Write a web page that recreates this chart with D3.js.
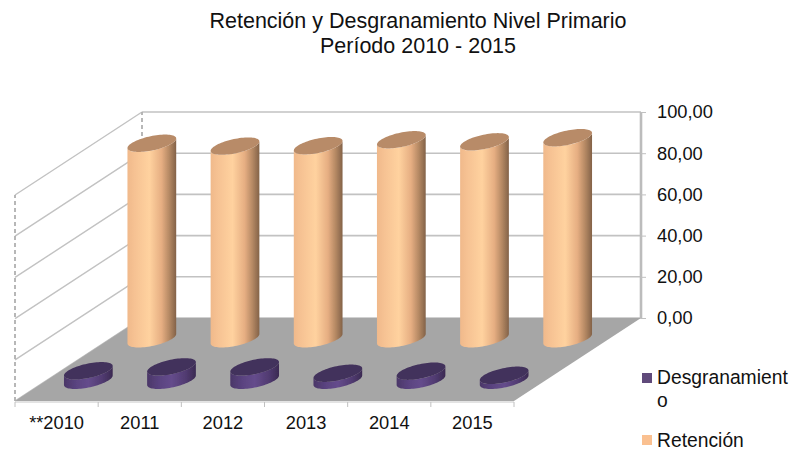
<!DOCTYPE html>
<html>
<head>
<meta charset="utf-8">
<script src="https://cdn.jsdelivr.net/npm/d3@7"></script>
<style>
  html, body { margin: 0; padding: 0; background: #fff; }
  text { font-family: "Liberation Sans", Arial, sans-serif; fill: #111; }
</style>
</head>
<body>
<div id="chart"></div>
<script>
// values
const years = ['**2010', '2011', '2012', '2013', '2014', '2015'];
const retencion = [94.9, 93.5, 93.7, 96.6, 95.6, 97.6];
const desgranamiento = [4.6, 6.5, 6.5, 3.4, 4.4, 2.4];
const yTicks = [0, 20, 40, 60, 80, 100];
const titleLines = ['Retención y Desgranamiento Nivel Primario', 'Período 2010 - 2015'];

const width = 794, height = 453;
const svg = d3.select('#chart').append('svg')
  .attr('width', width)
  .attr('height', height)
  .style('display', 'block');

// the 3d box: x along the front edge, y up, depth goes back and to the right
const depthDx = 127, depthDy = -83;
const x = d3.scaleBand().domain(years).range([15, 514]);
const y = d3.scaleLinear().domain([0, 100]).range([401, 195]);
const depth = d3.scaleLinear().domain([0, 1]);

function project(px, value, d) {
  return [px + depth(d) * depthDx, y(value) + depth(d) * depthDy];
}

const es = d3.formatLocale({ decimal: ',', thousands: '.', grouping: [3], currency: ['', ''] });
const fmt = es.format('.2f');

const defs = svg.append('defs');
defs.append('filter').attr('id', 'soft')
  .append('feGaussianBlur').attr('stdDeviation', 0.5);

function sideGradient(id, stops) {
  const g = defs.append('linearGradient').attr('id', id);
  stops.forEach(s => g.append('stop').attr('offset', s[0]).attr('stop-color', s[1]));
}
sideGradient('gradOrange', [[0, '#f0b98b'], [0.15, '#f6c293'], [0.45, '#ffd29f'], [0.7, '#e6ae82'], [0.86, '#b48863'], [1, '#836248']]);
sideGradient('gradPurple', [[0, '#4b3768'], [0.25, '#5a4380'], [0.5, '#654c8c'], [0.8, '#503a70'], [1, '#3b2a52']]);

const plot = svg.append('g').attr('filter', 'url(#soft)');
const gridColor = '#c2c2c2';
const left = x.range()[0], right = x.range()[1];

// back wall grid and side wall grid
plot.selectAll('.back').data(yTicks).enter().append('line')
  .attr('x1', project(left, 0, 1)[0]).attr('x2', project(right, 0, 1)[0])
  .attr('y1', d => project(left, d, 1)[1]).attr('y2', d => project(left, d, 1)[1])
  .attr('stroke', gridColor).attr('stroke-width', 1.6);
plot.selectAll('.side').data(yTicks).enter().append('line')
  .attr('x1', project(left, 0, 0)[0]).attr('x2', project(left, 0, 1)[0])
  .attr('y1', d => project(left, d, 0)[1]).attr('y2', d => project(left, d, 1)[1])
  .attr('stroke', gridColor).attr('stroke-width', 1.4);

// wall edges
plot.append('line')
  .attr('x1', project(left, 0, 0)[0]).attr('x2', project(left, 0, 0)[0])
  .attr('y1', project(left, 0, 0)[1]).attr('y2', project(left, 100, 0)[1])
  .attr('stroke', '#b0b0b0').attr('stroke-width', 1.8).attr('stroke-dasharray', '4 3');
plot.append('line')
  .attr('x1', project(left, 0, 1)[0]).attr('x2', project(left, 0, 1)[0])
  .attr('y1', project(left, 0, 1)[1]).attr('y2', project(left, 100, 1)[1])
  .attr('stroke', '#b0b0b0').attr('stroke-width', 1.8).attr('stroke-dasharray', '4 3');
plot.append('line')
  .attr('x1', project(right, 0, 1)[0]).attr('x2', project(right, 0, 1)[0])
  .attr('y1', project(right, 0, 1)[1]).attr('y2', project(right, 100, 1)[1])
  .attr('stroke', '#bcbcbc').attr('stroke-width', 2.6);

// floor
plot.append('path')
  .attr('d', d3.line()([project(left, 0, 0), project(right, 0, 0), project(right, 0, 1), project(left, 0, 1)]) + 'Z')
  .attr('fill', '#a6a6a6');

// front edge of the floor
plot.append('line')
  .attr('x1', left).attr('x2', right)
  .attr('y1', y(0) + 1).attr('y2', y(0) + 1)
  .attr('stroke', '#c8c8c8').attr('stroke-width', 1.2);

const ticksAt = years.map(d => x(d)).concat([right]);
plot.selectAll('.edge').data(ticksAt).enter().append('line')
  .attr('x1', d => d).attr('x2', d => d)
  .attr('y1', y(0) + 1).attr('y2', y(0) + 6)
  .attr('stroke', '#c0c0c0').attr('stroke-width', 1);

// cylinder footprint: a circle on the floor, sheared by the depth direction
const rx = 20.4, rd = 0.105;
function rim(cx, value, d0, t) {
  return project(cx + rx * Math.cos(t), value, d0 + rd * Math.sin(t));
}
const tEdge = Math.atan2(rd * depthDx, rx); // where the silhouette touches the rim

function drawCylinders(values, d0, grad, topColor) {
  const g = plot.append('g');
  years.forEach((yr, i) => {
    const cx = x(yr) + x.bandwidth() / 2;
    const v = values[i];
    const down = d3.range(0, 41).map(k => rim(cx, 0, d0, tEdge + Math.PI + k / 40 * Math.PI));
    const up = d3.range(0, 41).map(k => rim(cx, v, d0, tEdge + 2 * Math.PI - k / 40 * Math.PI));
    g.append('path')
      .attr('d', d3.line()(down.concat(up)) + 'Z')
      .attr('fill', `url(#${grad})`);
    const top = d3.range(0, 80).map(k => rim(cx, v, d0, k / 80 * 2 * Math.PI));
    g.append('path')
      .attr('d', d3.line()(top) + 'Z')
      .attr('fill', topColor);
  });
}
drawCylinders(retencion, 0.75, 'gradOrange', '#b88b68');
drawCylinders(desgranamiento, 0.25, 'gradPurple', '#43315c');

// value axis on the right of the back wall
const yAxisScale = d3.scaleLinear().domain([0, 100]).range([project(right, 0, 1)[1], project(right, 100, 1)[1]]);
const yAxis = svg.append('g')
  .attr('transform', `translate(${project(right, 0, 1)[0]},0)`)
  .call(d3.axisRight(yAxisScale).tickValues(yTicks).tickFormat(fmt).tickSize(5).tickPadding(11));
yAxis.select('.domain').remove();
yAxis.selectAll('line').attr('stroke', '#c0c0c0');
yAxis.selectAll('text').attr('font-size', 18.3);

// category labels
const xAxis = svg.append('g')
  .attr('transform', `translate(0,${y(0)})`)
  .call(d3.axisBottom(x).tickSize(0).tickPadding(15));
xAxis.select('.domain').remove();
xAxis.selectAll('text').attr('font-size', 18.3);

// title
svg.append('g').selectAll('text').data(titleLines).enter().append('text')
  .attr('x', 418)
  .attr('y', (d, i) => 28 + i * 25)
  .attr('text-anchor', 'middle')
  .attr('font-size', 21.5)
  .text(d => d);

// legend
svg.append('rect').attr('x', 642).attr('y', 373).attr('width', 10).attr('height', 10).attr('fill', '#604a7b');
svg.append('text').attr('x', 657).attr('y', 384).attr('font-size', 19.3).text('Desgranamient');
svg.append('text').attr('x', 657).attr('y', 407).attr('font-size', 19.3).text('o');
svg.append('rect').attr('x', 642).attr('y', 435).attr('width', 10).attr('height', 10).attr('fill', '#fac090');
svg.append('text').attr('x', 657).attr('y', 447).attr('font-size', 19.3).text('Retención');
</script>
</body>
</html>
